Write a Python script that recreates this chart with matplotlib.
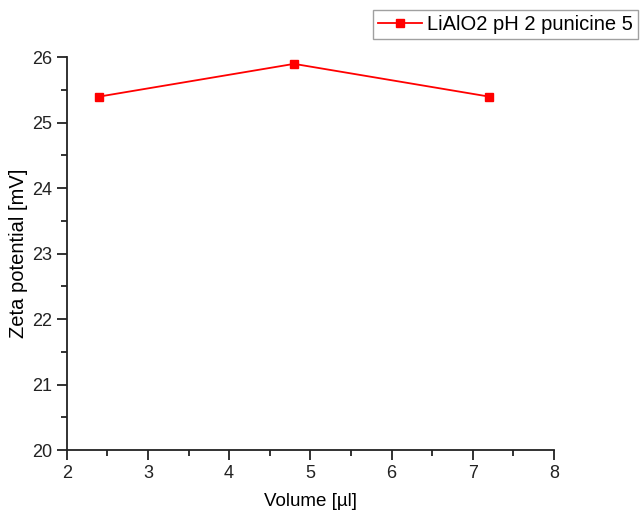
import matplotlib.pyplot as plt
from matplotlib.ticker import MultipleLocator

plt.rcParams['font.family'] = ['Liberation Sans', 'DejaVu Sans']

volume = [2.4, 4.8, 7.2]
zeta = [25.4, 25.9, 25.4]
series_label = 'LiAlO2 pH 2 punicine 5'

fig = plt.figure(figsize=(6.42, 5.15), dpi=100)
ax = fig.add_axes([0.1039, 0.1262, 0.7589, 0.7625])

ax.plot(volume, zeta, '-s', color='#ff0000', linewidth=1.3, markersize=6,
        label=series_label)

ax.set_xlim(2, 8)
ax.set_ylim(20, 26)
ax.xaxis.set_major_locator(MultipleLocator(1))
ax.xaxis.set_minor_locator(MultipleLocator(0.5))
ax.yaxis.set_major_locator(MultipleLocator(1))
ax.yaxis.set_minor_locator(MultipleLocator(0.5))

for side in ['top', 'right']:
    ax.spines[side].set_visible(False)
for side in ['left', 'bottom']:
    ax.spines[side].set_linewidth(1.3)
    ax.spines[side].set_color('#222222')

ax.tick_params(which='major', direction='out', length=7, width=1.3, labelsize=13, colors='#222222')
ax.tick_params(which='minor', direction='out', length=4, width=1.3, colors='#222222')

ax.set_xlabel('Volume [µl]', fontsize=13.5, labelpad=8)
ax.set_ylabel('Zeta potential [mV]', fontsize=14.5, labelpad=3)

fig.legend(loc='upper right', bbox_to_anchor=(0.9938, 0.9806), fontsize=14.5,
           frameon=True, fancybox=False, edgecolor='#a0a0a0', framealpha=1,
           handlelength=2.2, borderpad=0.25, handletextpad=0.25, borderaxespad=0)

fig.savefig('out.png', dpi=100)
